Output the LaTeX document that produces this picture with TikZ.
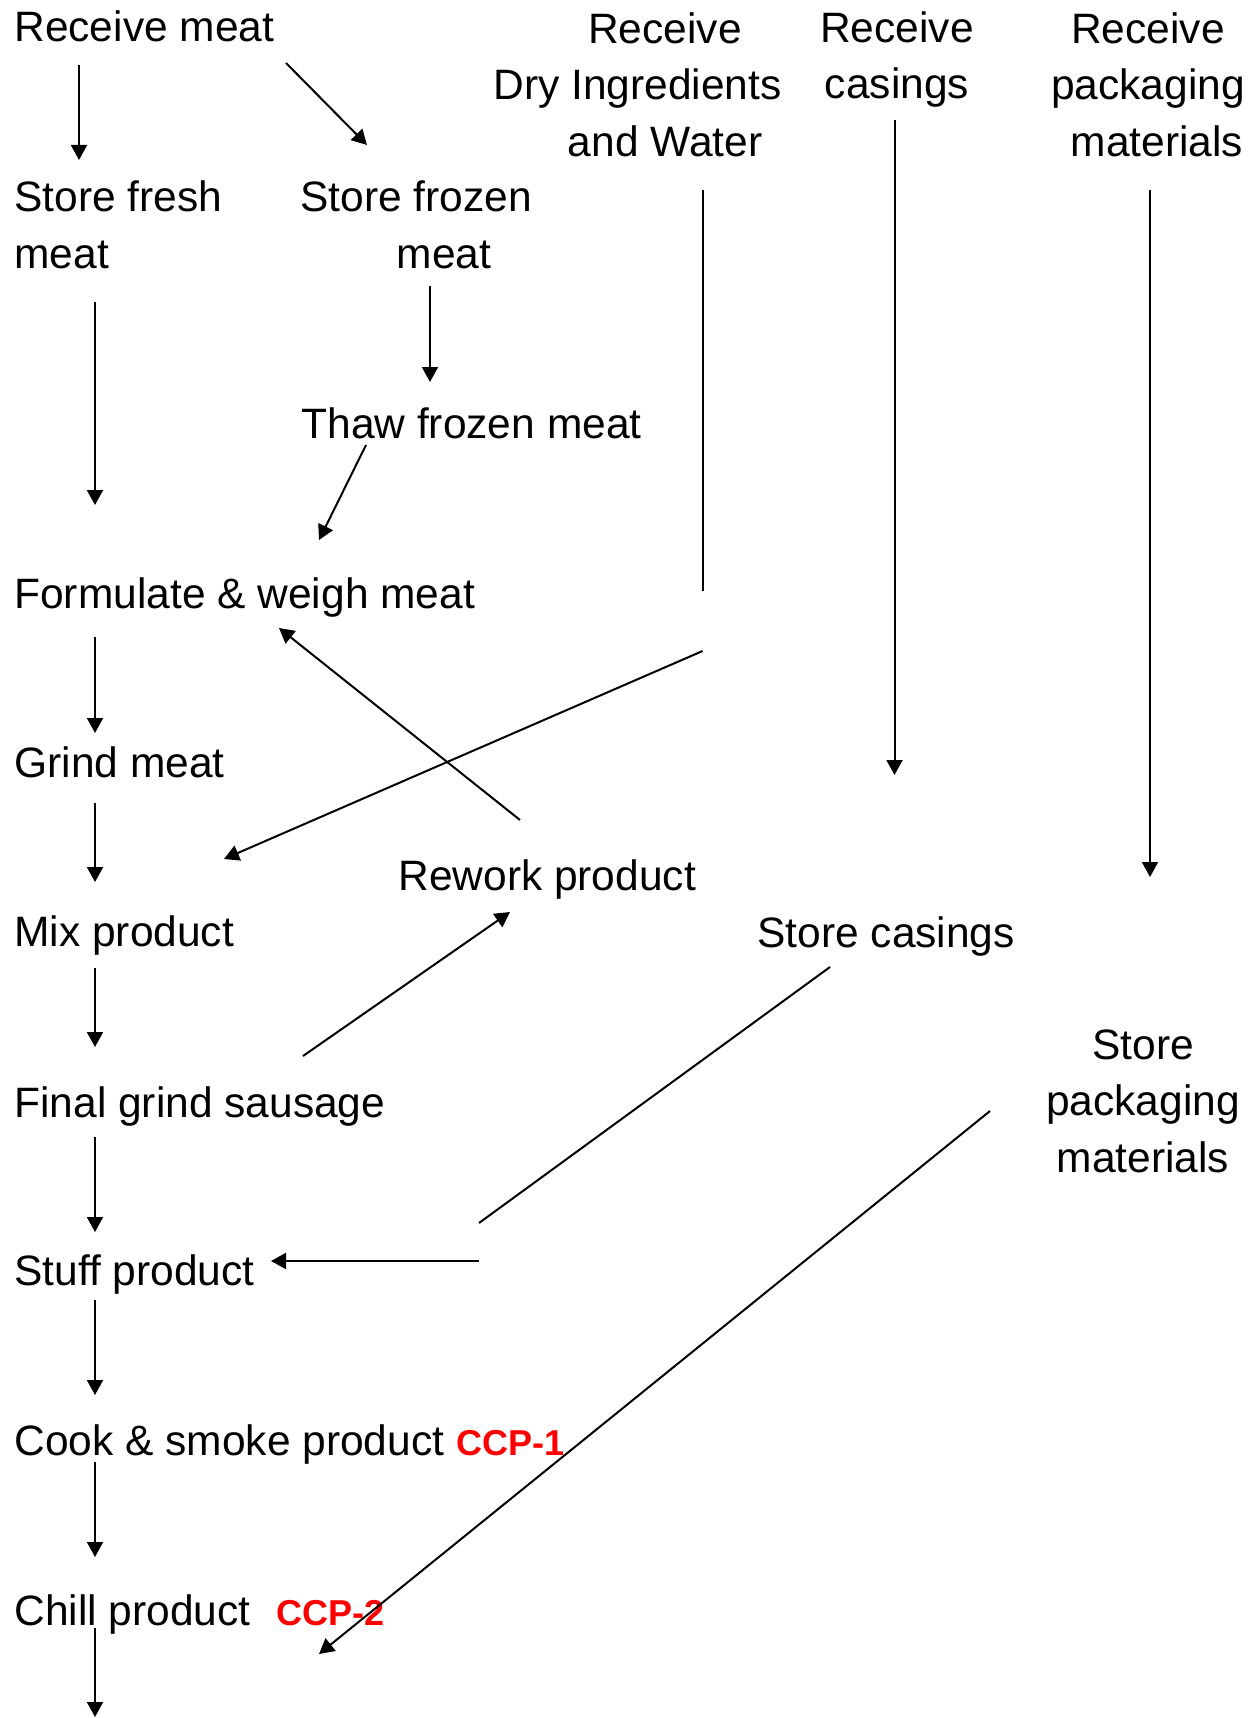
\documentclass[tikz,border=0pt]{standalone}
\usepackage{fontspec}
\setmainfont{Liberation Sans}
\usepackage{tikz}
\usepackage{xcolor}
\usetikzlibrary{arrows.meta}
\usetikzlibrary{calc}
\colorlet{myred}{red}
\tikzstyle{myarr}=[-{Triangle[length=7.5pt,width=8pt]},line width=1pt]
\tikzstyle{myline}=[line width=1pt]
\tikzstyle{mystep}=[inner sep=0,font=\fontsize{21.25}{28.25}\selectfont]
\newcommand\ccp[1]{\textcolor{myred}{\bfseries\fontsize{18}{18}\selectfont #1}}
\newcommand\pad[1]{\rule{#1}{0pt}}

\begin{document}
\begin{tikzpicture}[x=0.5pt,y=-0.5pt]
		\message{Sausage process flow^^J}
		\path[use as bounding box,fill=white] (0,0) rectangle (1252,1718);
		
		% MAIN LINE
		\node[mystep,anchor=base west] (rmeat) at (14,42) {Receive meat};
		\node[mystep,anchor=base west,align=left] (fresh) at (14,268) {Store fresh\\meat};
		\node[mystep,anchor=base west] (formulate) at (14,608) {Formulate \& weigh meat};
		\node[mystep,anchor=base west] (grind) at (14,777) {Grind meat};
		\node[mystep,anchor=base west] (mix) at (14,946) {Mix product};
		\node[mystep,anchor=base west] (final) at (14,1117) {Final grind sausage};
		\node[mystep,anchor=base west] (stuff) at (14,1285) {Stuff product};
		\node[mystep,anchor=base west] (cook) at (14,1455) {Cook \& smoke product \ccp{CCP-1}};
		\node[mystep,anchor=base west] (chill) at (14,1625) {Chill product\hspace{13pt}\ccp{CCP-2}};
		
		% SIDE STEPS (base = last line)
		\node[mystep,anchor=base,align=center] (frozen) at (444,268) {Store frozen\pad{28pt}\\meat};
		\node[mystep,anchor=base west] (thaw) at (301,438) {Thaw frozen meat};
		\node[mystep,anchor=base west] (rework) at (398,890) {Rework product};
		\node[mystep,anchor=base,align=center] (dry) at (665,156) {Receive\\Dry Ingredients\pad{27.5pt}\\and Water};
		\node[mystep,anchor=base,align=center] (rcas) at (897,99) {Receive\\casings};
		\node[mystep,anchor=base west] (scas) at (757,947) {Store casings};
		\node[mystep,anchor=base,align=center] (rpack) at (1148,156) {Receive\\packaging\\\pad{9pt}materials};
		\node[mystep,anchor=base,align=center] (spack) at (1143,1172) {Store\\packaging\\materials};
		
		\coordinate (dryA) at (702.6,591);
		\coordinate (dryB) at (702.6,651);
		\coordinate (casA) at (479,1223);
		\coordinate (casB) at (479,1261);
		\coordinate (out) at (95,1717);
		
		% LEFT ARROWS
		\draw[myarr] ([shift={(65,23)}]rmeat.base west) -- ([shift={(65,-108)}]fresh.base west);
		\draw[myarr] ([shift={(81,34)}]fresh.base west) -- ([shift={(81,-103)}]formulate.base west);
		\draw[myarr] ([shift={(81,29)}]formulate.base west) -- ([shift={(81,-44)}]grind.base west);
		\draw[myarr] ([shift={(81,26)}]grind.base west) -- ([shift={(81,-64)}]mix.base west);
		\draw[myarr] ([shift={(81,22)}]mix.base west) -- ([shift={(81,-70)}]final.base west);
		\draw[myarr] ([shift={(81,20)}]final.base west) -- ([shift={(81,-53)}]stuff.base west);
		\draw[myarr] ([shift={(81,15)}]stuff.base west) -- ([shift={(81,-60)}]cook.base west);
		\draw[myarr] ([shift={(81,7)}]cook.base west) -- ([shift={(81,-68)}]chill.base west);
		\draw[myarr] ([shift={(81,3)}]chill.base west) -- (out);
		
		% FROZEN MEAT
		\draw[myarr] ([shift={(272,21)}]rmeat.base west) -- ([shift={(-77,-123)}]frozen.base);
		\draw[myarr] ([shift={(-14,18)}]frozen.base) -- ([shift={(129,-56)}]thaw.base west);
		\draw[myarr] ([shift={(65,7)}]thaw.base west) -- ([shift={(305,-68)}]formulate.base west);
		
		% REWORK
		\draw[myarr] ([shift={(122,-70)}]rework.base west) -- ([shift={(265,20)}]formulate.base west);
		\draw[myarr] ([shift={(289,-61)}]final.base west) -- ([shift={(112,22)}]rework.base west);
		
		% DRY INGREDIENTS
		\draw[myline] ([shift={(37.6,34)}]dry.base) -- (dryA);
		\draw[myarr] (dryB) -- ([shift={(210,-87)}]mix.base west);
		
		% CASINGS
		\draw[myarr] ([shift={(-2.5,21)}]rcas.base) -- ([shift={(137.5,-172)}]scas.base west);
		\draw[myline] ([shift={(73,20)}]scas.base west) -- (casA);
		\draw[myarr] (casB) -- ([shift={(257,-24)}]stuff.base west);
		
		% PACKAGING
		\draw[myarr] ([shift={(2,34)}]rpack.base) -- ([shift={(7,-295)}]spack.base);
		\draw[myarr] ([shift={(-153,-61)}]spack.base) -- ([shift={(305,29)}]chill.base west);
		
	\end{tikzpicture}
\end{document}
